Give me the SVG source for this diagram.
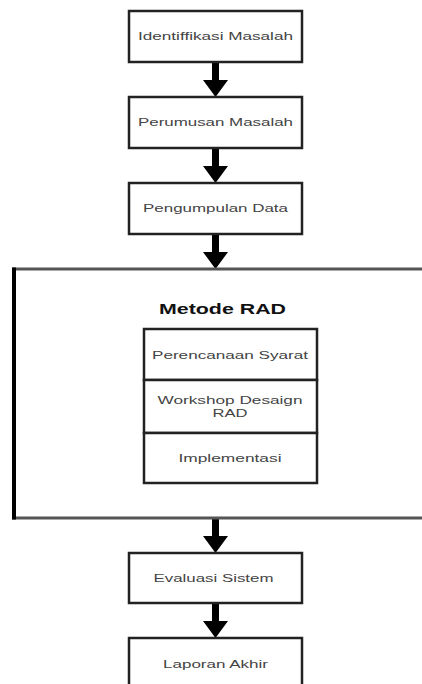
<svg xmlns="http://www.w3.org/2000/svg" width="422" height="684" viewBox="0 0 422 684">
<defs>
<style>
.box{fill:#fff;stroke:#222;stroke-width:2.5}
.t{font-family:"Liberation Sans",Arial,sans-serif;font-size:11px;fill:#444;text-anchor:middle;dominant-baseline:central}
.b{font-family:"Liberation Sans",Arial,sans-serif;font-size:14px;font-weight:bold;fill:#111;text-anchor:middle;dominant-baseline:central}
.arr{fill:#000}
</style>
</defs>
<rect width="422" height="684" fill="#fff"/>
<g id="connectors" class="arr">
<path d="M212,62 L219,62 L219,80 L228,80 L215.5,97 L203,80 L212,80 Z"/>
<path d="M212,148 L219,148 L219,166 L228,166 L215.5,183 L203,166 L212,166 Z"/>
<path d="M212,234 L219,234 L219,252 L228,252 L215.5,269 L203,252 L212,252 Z"/>
<path d="M212,518 L219,518 L219,536 L228,536 L215.5,553 L203,536 L212,536 Z"/>
<path d="M212,603 L219,603 L219,621 L228,621 L215.5,638 L203,621 L212,621 Z"/>
</g>
<g id="n1"><rect class="box" x="129" y="11" width="173" height="51"/><text class="t" x="215.5" y="36" textLength="155" lengthAdjust="spacingAndGlyphs">Identiffikasi Masalah</text></g>
<g id="n2"><rect class="box" x="129" y="97" width="173" height="51"/><text class="t" x="215.5" y="122" textLength="155" lengthAdjust="spacingAndGlyphs">Perumusan Masalah</text></g>
<g id="n3"><rect class="box" x="129" y="183" width="173" height="51"/><text class="t" x="215.5" y="208" textLength="145" lengthAdjust="spacingAndGlyphs">Pengumpulan Data</text></g>
<g id="rad">
<line x1="12" y1="269" x2="422" y2="269" stroke="#555" stroke-width="3"/>
<line x1="12" y1="518" x2="422" y2="518" stroke="#555" stroke-width="3"/>
<line x1="14" y1="267.5" x2="14" y2="519.5" stroke="#000" stroke-width="4"/>
<text class="b" x="222.5" y="309" textLength="127" lengthAdjust="spacingAndGlyphs">Metode RAD</text>
</g>
<g id="s1"><rect class="box" x="144" y="329" width="173" height="51"/><text class="t" x="230" y="355" textLength="156" lengthAdjust="spacingAndGlyphs">Perencanaan Syarat</text></g>
<g id="s2"><rect class="box" x="144" y="380" width="173" height="53"/><text class="t" x="230" y="400" textLength="145" lengthAdjust="spacingAndGlyphs">Workshop Desaign</text><text class="t" x="230" y="413" textLength="35" lengthAdjust="spacingAndGlyphs">RAD</text></g>
<g id="s3"><rect class="box" x="144" y="433" width="173" height="50"/><text class="t" x="230" y="458" textLength="103" lengthAdjust="spacingAndGlyphs">Implementasi</text></g>
<g id="n4"><rect class="box" x="129" y="553" width="173" height="50"/><text class="t" x="213.5" y="578" textLength="120" lengthAdjust="spacingAndGlyphs">Evaluasi Sistem</text></g>
<g id="n5"><rect class="box" x="129" y="638" width="173" height="60"/><text class="t" x="215.5" y="664" textLength="105" lengthAdjust="spacingAndGlyphs">Laporan Akhir</text></g>
</svg>
